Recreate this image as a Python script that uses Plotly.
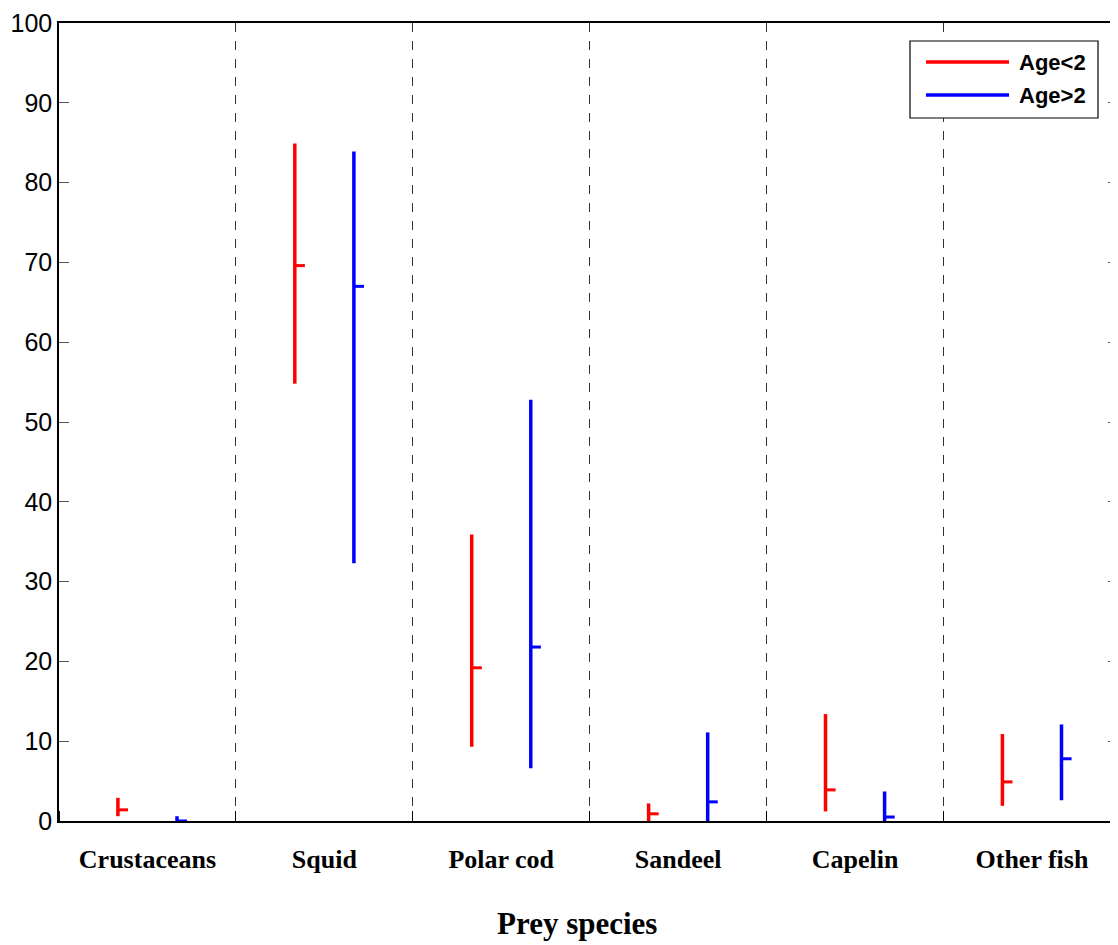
import plotly.graph_objects as go

categories = ["Crustaceans", "Squid", "Polar cod", "Sandeel", "Capelin", "Other fish"]

# Age<2 (red): lower, mean, upper
young_low = [0.6, 54.8, 9.3, 0.0, 1.2, 1.9]
young_mean = [1.4, 69.6, 19.2, 0.9, 3.9, 4.9]
young_high = [2.9, 84.9, 35.9, 2.2, 13.4, 10.9]

# Age>2 (blue): lower, mean, upper
old_low = [0.0, 32.3, 6.6, 0.0, 0.0, 2.6]
old_mean = [0.0, 67.0, 21.8, 2.4, 0.5, 7.8]
old_high = [0.6, 83.9, 52.8, 11.1, 3.7, 12.1]

y_ticks = [0, 10, 20, 30, 40, 50, 60, 70, 80, 90, 100]

OFF = 7  # page offset of the figure in the screenshot
W, H = 1110, 937
L, R, T, B = 58 - OFF, 0, 22 - OFF, 937 - (820 - OFF)
x_range = [0.5, 0.5 + (W - L - R) / 176.9]
offset = 0.167
mean_len = 0.057

def px_x(p):
    return (p - OFF - L) / (W - L - R)

def px_y(p):
    return (H - B - (p - OFF)) / (H - T - B)

fig = go.Figure()

def add_series(low, mean, high, color, sign):
    xs, ys = [], []
    mx, my = [], []
    for i, (lo, me, hi) in enumerate(zip(low, mean, high)):
        xc = i + 1 + sign * offset
        xs += [xc, xc, None]
        ys += [lo, hi, None]
        mx += [xc, xc + mean_len, None]
        my += [me, me, None]
    fig.add_trace(go.Scatter(x=xs, y=ys, mode="lines",
                             line=dict(color=color, width=3.5),
                             showlegend=False, hoverinfo="skip", cliponaxis=False))
    fig.add_trace(go.Scatter(x=mx, y=my, mode="lines",
                             line=dict(color=color, width=3),
                             showlegend=False, hoverinfo="skip", cliponaxis=False))

add_series(young_low, young_mean, young_high, "#ff0000", -1)
add_series(old_low, old_mean, old_high, "#0000ff", +1)

shapes = []
annotations = []
# legend box (manual, MATLAB style)
shapes.append(dict(type="rect", xref="paper", yref="paper",
                   x0=px_x(909), x1=px_x(1097), y0=px_y(117), y1=px_y(40),
                   line=dict(color="black", width=1.2), fillcolor="white", layer="above"))
for yy, col, name in [(61, "#ff0000", "Age&lt;2"), (94, "#0000ff", "Age&gt;2")]:
    shapes.append(dict(type="line", xref="paper", yref="paper",
                       x0=px_x(925), x1=px_x(1008), y0=px_y(yy), y1=px_y(yy),
                       line=dict(color=col, width=3.5), layer="above"))
    annotations.append(dict(xref="paper", yref="paper", x=px_x(1016), y=px_y(yy),
                            xanchor="left", yanchor="middle", showarrow=False,
                            text="<b>" + name + "</b>",
                            font=dict(family="Liberation Sans, Arial", size=22, color="black")))

# x-axis title (MATLAB centres it on the figure, not the plot area)
annotations.append(dict(xref="paper", yref="paper", x=px_x(576), y=px_y(922),
                        xanchor="center", yanchor="middle", showarrow=False,
                        text="<b>Prey species</b>",
                        font=dict(family="Liberation Serif, Times New Roman", size=31, color="black")))

fig.update_layout(
    width=W, height=H,
    margin=dict(l=L, r=R, t=T, b=B, pad=0, autoexpand=False),
    paper_bgcolor="white", plot_bgcolor="white",
    shapes=shapes, annotations=annotations,
    xaxis=dict(
        range=x_range, tickvals=list(range(1, 7)), ticktext=["<b>%s</b>" % c for c in categories],
        ticks="", showgrid=False, zeroline=False, automargin=False,
        showline=True, linecolor="black", linewidth=1.5, mirror=True,
        tickfont=dict(family="Liberation Serif, Times New Roman", size=26, color="black"),
        ticklabelstandoff=14,
        minor=dict(tick0=0.5, dtick=1, ticks="inside", ticklen=10, tickcolor="black",
                   showgrid=True, gridcolor="#333333", griddash="dash", gridwidth=1),
    ),
    yaxis=dict(
        range=[0, 100], tickvals=y_ticks, ticks="inside", ticklen=10, tickcolor="#555555",
        showgrid=False, zeroline=False, automargin=False,
        showline=True, linecolor="black", linewidth=1.5, mirror="ticks",
        tickfont=dict(family="Liberation Sans, Arial", size=25, color="black"),
        ticklabelstandoff=0,
    ),
)

fig.write_html("out.html")
